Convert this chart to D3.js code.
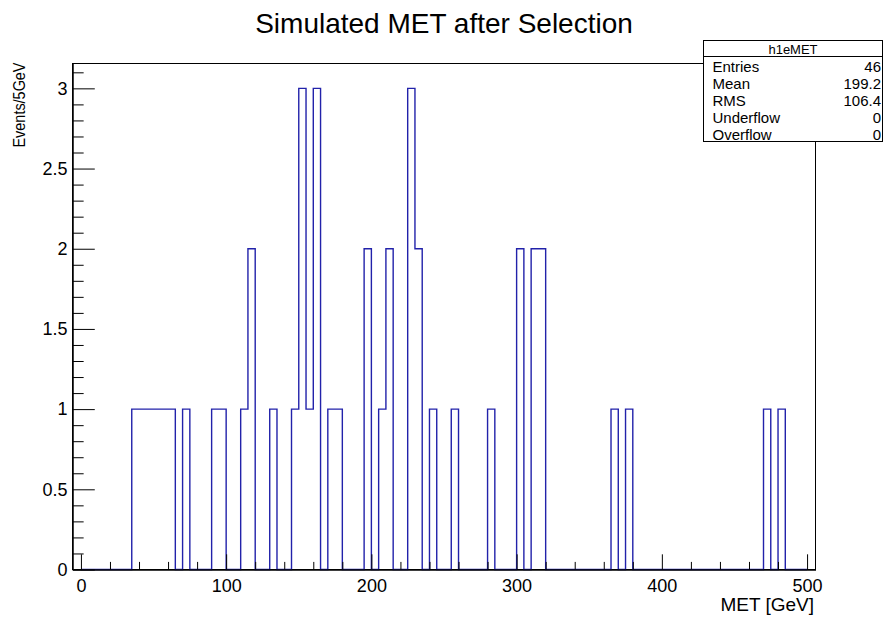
<!DOCTYPE html>
<html>
<head>
<meta charset="utf-8">
<script src="https://cdn.jsdelivr.net/npm/d3@7"></script>
<style>
  html, body { margin: 0; padding: 0; background: #fff; }
  svg { display: block; font-family: "Liberation Sans", Arial, Helvetica, sans-serif; }
</style>
</head>
<body>
<svg id="chart" width="883" height="619"></svg>
<script>
// Filled 5 GeV bins of h1eMET: lower edge (GeV) and number of events
const binLowEdges = [35, 40, 45, 50, 55, 60, 70, 90, 95, 110, 115, 130, 145, 150, 155, 160,
                     170, 175, 195, 205, 210, 225, 230, 240, 255, 280, 300, 310, 315, 365, 375, 470, 480];
const binCounts   = [1, 1, 1, 1, 1, 1, 1, 1, 1, 1, 2, 1, 1, 3, 1, 3,
                     1, 1, 2, 1, 2, 3, 2, 1, 1, 1, 2, 2, 2, 1, 1, 1, 1];
const binWidth = 5;
const histRange = [0, 500];

// Axis ticks
const xMajorTicks = [0, 100, 200, 300, 400, 500];
const yMajorTicks = [0, 0.5, 1, 1.5, 2, 2.5, 3];

// Statistics box
const statTitle = "h1eMET";
const statLabels = ["Entries", "Mean", "RMS", "Underflow", "Overflow"];
const statValues = ["46", "199.2", "106.4", "0", "0"];

const frame = { left: 72.5, right: 815.5, top: 63.5, bottom: 569.5 };

const svg = d3.select("#chart");

const x = d3.scaleLinear().domain([-5.8, 505.8]).range([frame.left, frame.right]);
const y = d3.scaleLinear().domain([0, 3.155]).range([frame.bottom, frame.top]);

// Title
svg.append("text")
  .attr("x", 444).attr("y", 33)
  .attr("text-anchor", "middle")
  .attr("font-size", 28)
  .text("Simulated MET after Selection");

// Frame
svg.append("rect")
  .attr("x", frame.left).attr("y", frame.top)
  .attr("width", frame.right - frame.left).attr("height", frame.bottom - frame.top)
  .attr("fill", "none").attr("stroke", "#000").attr("stroke-width", 1);

// Histogram outline (step line over every bin of the range)
const nBins = (histRange[1] - histRange[0]) / binWidth;
const counts = new Array(nBins).fill(0);
binLowEdges.forEach((lo, i) => { counts[Math.round((lo - histRange[0]) / binWidth)] = binCounts[i]; });
const pts = [[histRange[0], 0]];
counts.forEach((c, i) => {
  const lo = histRange[0] + i * binWidth;
  pts.push([lo, c], [lo + binWidth, c]);
});
pts.push([histRange[1], 0]);
svg.append("path")
  .attr("d", d3.line().x(d => x(d[0])).y(d => y(d[1]))(pts))
  .attr("fill", "none")
  .attr("stroke", "#2222aa")
  .attr("stroke-width", 1.4);

// Axes: ticks point into the frame
const xTickLen = 0.03 * (frame.bottom - frame.top);
const yTickLen = 0.03 * (frame.right - frame.left);
const fontAxis = 18;

const xMinor = d3.range(0, 506, 20).filter(v => v % 100 !== 0);
const yMinor = d3.range(0, 32).map(i => i / 10).filter(v => Math.abs(v * 2 - Math.round(v * 2)) > 1e-6);

const gx = svg.append("g").attr("transform", `translate(0,${frame.bottom})`);
gx.call(d3.axisBottom(x).tickValues(xMinor).tickSize(-xTickLen / 2).tickSizeOuter(0).tickFormat(""));
gx.append("g").call(d3.axisBottom(x).tickValues(xMajorTicks).tickSize(-xTickLen).tickSizeOuter(0).tickPadding(9.5).tickFormat(d3.format("d")));

const gy = svg.append("g").attr("transform", `translate(${frame.left},0)`);
gy.call(d3.axisLeft(y).tickValues(yMinor).tickSize(-yTickLen / 2).tickSizeOuter(0).tickFormat(""));
gy.append("g").call(d3.axisLeft(y).tickValues(yMajorTicks).tickSize(-yTickLen).tickSizeOuter(0).tickPadding(5).tickFormat(d => d3.format("")(d)));

svg.selectAll(".tick text").attr("font-size", fontAxis).attr("fill", "#000").attr("font-family", null);
svg.selectAll(".tick line, .domain").attr("stroke", "#000");

// Axis titles
svg.append("text")
  .attr("x", 814).attr("y", 611)
  .attr("text-anchor", "end")
  .attr("font-size", 19)
  .text("MET [GeV]");

svg.append("text")
  .attr("transform", `translate(25,${frame.top - 1}) rotate(-90)`)
  .attr("text-anchor", "end")
  .attr("font-size", 16)
  .attr("textLength", 85)
  .attr("lengthAdjust", "spacingAndGlyphs")
  .text("Events/5GeV");

// Statistics box
const box = { x: 703.5, y: 40.5, w: 179, h: 101 };
const sb = svg.append("g");
sb.append("rect")
  .attr("x", box.x).attr("y", box.y).attr("width", box.w).attr("height", box.h)
  .attr("fill", "#fff").attr("stroke", "#000").attr("stroke-width", 1);
sb.append("line")
  .attr("x1", box.x).attr("x2", box.x + box.w)
  .attr("y1", 56.5).attr("y2", 56.5)
  .attr("stroke", "#000");
sb.append("text")
  .attr("x", box.x + box.w / 2).attr("y", 54)
  .attr("text-anchor", "middle").attr("font-size", 13)
  .text(statTitle);
const rowH = (box.y + box.h - 56.5) / statLabels.length;
statLabels.forEach((lab, i) => {
  const by = 56.5 + rowH * (i + 1) - 1.5;
  sb.append("text").attr("x", 712.5).attr("y", by).attr("font-size", 15).text(lab);
  sb.append("text").attr("x", 881).attr("y", by).attr("text-anchor", "end").attr("font-size", 15).text(statValues[i]);
});
</script>
</body>
</html>
